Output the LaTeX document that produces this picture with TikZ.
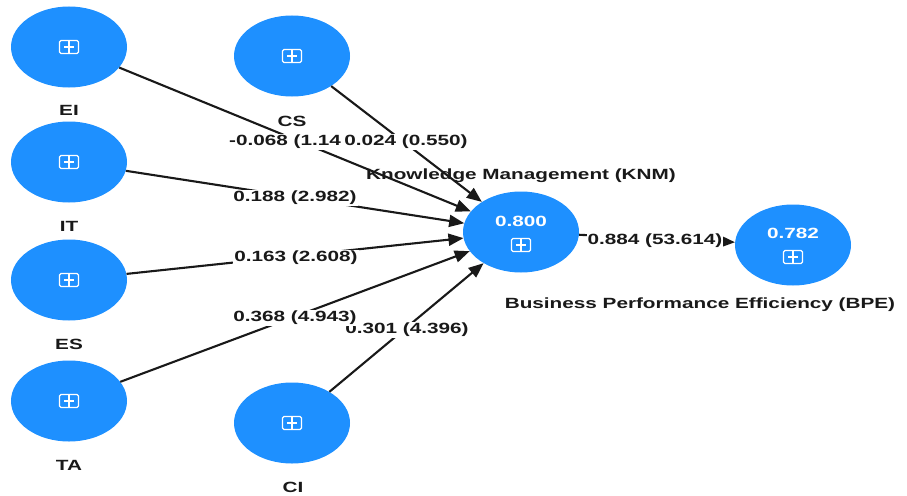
\documentclass[tikz,border=0pt]{standalone}
\usepackage{fontspec}
\newfontfamily\lblfont[FakeStretch=1.4]{Liberation Sans}
\usetikzlibrary{shapes.geometric,arrows.meta}
\definecolor{plsblue}{RGB}{30,144,255}
\begin{document}
\begin{tikzpicture}[x=1pt,y=-1pt,
  lv/.style={ellipse,fill=plsblue,minimum width=116pt,minimum height=81pt,inner sep=0pt},
  lbl/.style={font={\lblfont\bfseries\fontsize{14.8}{16}\selectfont},text=black!90,inner sep=1pt},
  coef/.style={lbl,fill=white},
  inval/.style={font={\lblfont\bfseries\fontsize{14.8}{16}\selectfont},text=white,inner sep=0pt},
  arr/.style={line width=2.1pt,draw=black!90,-{Triangle[length=15pt,width=12pt]}},
  expander/.pic={\draw[white,line width=1.1pt,rounded corners=1.5pt] (-9.5,-6.5) rectangle (9.5,6.5);
                 \draw[white,line width=1.1pt] (0,-6.5) -- (0,6.5) (-5,0) -- (5,0);}
]
\useasboundingbox[fill=white] (0,0) rectangle (907,495);

% latent variables
\node[lv] (EI) at (69,47) {};
\node[lv] (CS) at (292,56) {};
\node[lv] (IT) at (69,162) {};
\node[lv] (ES) at (69,280) {};
\node[lv] (TA) at (69,401) {};
\node[lv] (CI) at (292,423) {};
\node[lv] (KNM) at (521,232) {};
\node[lv] (BPE) at (793,245) {};

% expander icons
\pic at (69,47) {expander};
\pic at (292,56) {expander};
\pic at (69,162) {expander};
\pic at (69,280) {expander};
\pic at (69,401) {expander};
\pic at (292,423) {expander};
\pic at (521,245) {expander};
\pic at (793,257) {expander};

% values inside
\node[inval] (KNMv) at (521,221) {0.800};
\node[inval] (BPEv) at (793,233) {0.782};

% names
\node[lbl] (EIn) at (69,110) {EI};
\node[lbl] (CSn) at (292,121) {CS};
\node[lbl] (ITn) at (69,226) {IT};
\node[lbl] (ESn) at (69,344) {ES};
\node[lbl] (TAn) at (69,465) {TA};
\node[lbl] (CIn) at (293,487) {CI};
\node[lbl] (KNMn) at (521,176) {Knowledge Management (KNM)};
\node[lbl] (BPEn) at (700,305) {Business Performance Efficiency (BPE)};

% paths
\draw[arr] (EI) -- (KNM);
\draw[arr] (CS) -- (KNM);
\draw[arr] (IT) -- (KNM);
\draw[arr] (ES) -- (KNM);
\draw[arr] (TA) -- (KNM);
\draw[arr] (CI) -- (KNM);
\draw[arr] (KNM) -- (BPE);

% coefficients
\node[coef] (cEI) at (285,142) {-0.068 (1.14};
\node[coef] (cCS) at (406,142) {0.024 (0.550)};
\node[coef] (cIT) at (295,198) {0.188 (2.982)};
\node[coef] (cES) at (296,258) {0.163 (2.608)};
\node[coef] (cCI) at (407,330) {0.301 (4.396)};
\node[coef] (cTA) at (295,318) {0.368 (4.943)};
\node[coef] (cKB) at (655,241) {0.884 (53.614)};
\end{tikzpicture}
\end{document}
